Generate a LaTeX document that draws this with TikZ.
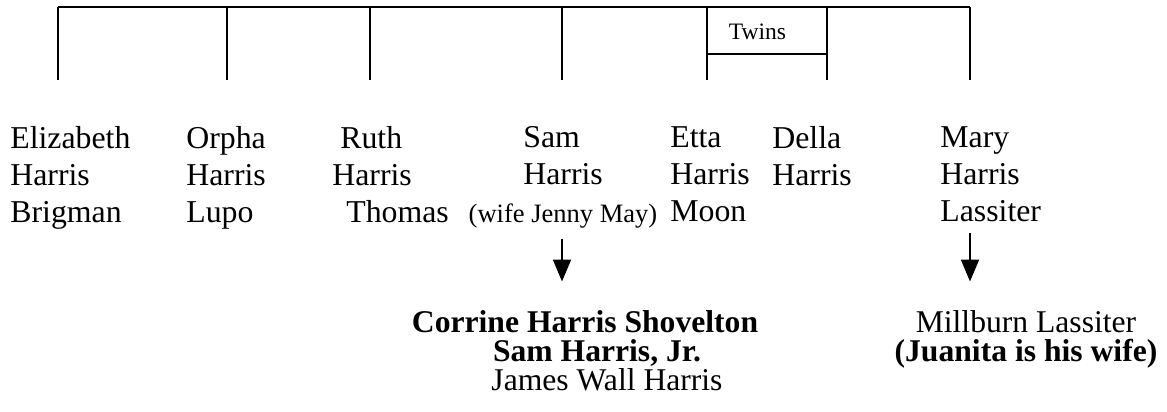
\documentclass[tikz,border=0pt]{standalone}
\usepackage{fontspec}
\setmainfont{Liberation Serif}
\usetikzlibrary{arrows.meta}
\begin{document}
\begin{tikzpicture}[
  sib/.style={anchor=north west, inner sep=0, align=left, font=\fontsize{18.1}{21.05}\selectfont},
  heir/.style={anchor=north, inner sep=0, align=center, font=\fontsize{18}{16.5}\selectfont},
  tree/.style={black, line width=1.1pt},
  link/.style={black, line width=1.1pt, -{Triangle[width=0.36cm,length=0.44cm]}}]
\useasboundingbox (0,0) rectangle (23.34,-8.22);

\coordinate (d1) at (1.16,-0.14);
\coordinate (d2) at (4.54,-0.14);
\coordinate (d3) at (7.40,-0.14);
\coordinate (d4) at (11.24,-0.14);
\coordinate (d5) at (14.14,-0.14);
\coordinate (d6) at (16.54,-0.14);
\coordinate (d7) at (19.40,-0.14);

\draw[tree] (d1)--(d7);
\foreach \d in {d1,d2,d3,d4,d5,d6,d7}
  \draw[tree] (\d)--++(0,-1.46);
\draw[tree] ([yshift=-0.94cm]d5)--([yshift=-0.94cm]d6);
\node (twins) at (15.15,-0.78) [anchor=base, font=\fontsize{13.4}{16}\selectfont]{Twins};

\node (eliz) at (0.20,-2.53) [sib]{Elizabeth\\Harris\\Brigman};
\node (orpha) at (3.72,-2.53) [sib]{Orpha\\Harris\\Lupo};
\node (ruth) at (6.64,-2.53) [sib]{\hspace*{0.16cm}Ruth\\Harris\\\hspace*{0.28cm}Thomas};
\node (sam) at (10.46,-2.53) [sib]{Sam\\Harris};
\node (wife) at (11.26,-4.44) [anchor=base, font=\fontsize{15.1}{18}\selectfont]{(wife Jenny May)};
\node (etta) at (13.40,-2.53) [sib]{Etta\\Harris\\Moon};
\node (della) at (15.44,-2.53) [sib]{Della\\Harris};
\node (mary) at (18.80,-2.53) [sib]{Mary\\Harris\\Lassiter};

\node (kids) at (11.94,-6.21) [heir]{\textbf{Corrine Harris Shovelton}\hspace*{0.48cm}\\\textbf{Sam Harris, Jr.}\\\hspace*{0.4cm}James Wall Harris};
\node (millburn) at (20.52,-6.21) [heir]{Millburn Lassiter\\\textbf{(Juanita is his wife)}};

\draw[link, shorten <=0.1cm, shorten >=0.58cm] (d4 |- wife.south)--(d4 |- kids.north);
\draw[link, shorten <=0.22cm, shorten >=0.58cm] (d7 |- mary.south)--(d7 |- millburn.north);

\end{tikzpicture}
\end{document}
